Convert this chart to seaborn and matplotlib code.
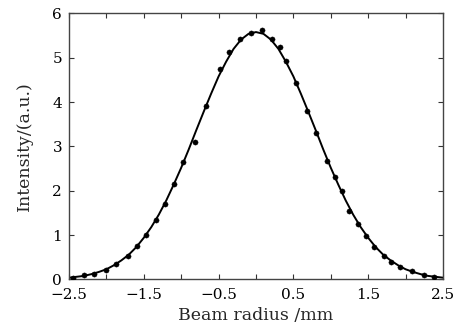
import matplotlib
matplotlib.use("Agg")
import matplotlib.pyplot as plt
import seaborn as sns
import pandas as pd

# measured points (beam radius in mm, intensity in a.u.)
point_x = [-2.44, -2.30, -2.17, -2.01, -1.87, -1.71, -1.59, -1.47, -1.34, -1.22,
           -1.09, -0.97, -0.82, -0.67, -0.48, -0.36, -0.21, -0.07, 0.08, 0.21,
           0.32, 0.40, 0.54, 0.68, 0.80, 0.95, 1.05, 1.15, 1.24, 1.37,
           1.47, 1.58, 1.71, 1.81, 1.93, 2.09, 2.24, 2.38]
point_y = [0.04, 0.09, 0.13, 0.22, 0.35, 0.54, 0.75, 1.00, 1.33, 1.70,
           2.16, 2.65, 3.10, 3.91, 4.74, 5.14, 5.42, 5.55, 5.62, 5.42,
           5.24, 4.92, 4.43, 3.81, 3.31, 2.68, 2.31, 2.00, 1.54, 1.24,
           0.99, 0.73, 0.53, 0.39, 0.27, 0.19, 0.10, 0.06]

# fitted curve
curve_x = [round(-2.5 + 0.1 * i, 1) for i in range(51)]
curve_y = [0.04, 0.06, 0.08, 0.12, 0.17, 0.23, 0.32, 0.43, 0.56, 0.73,
           0.94, 1.18, 1.46, 1.78, 2.14, 2.52, 2.93, 3.36, 3.78, 4.19,
           4.58, 4.91, 5.20, 5.41, 5.54, 5.58, 5.54, 5.41, 5.20, 4.91,
           4.58, 4.19, 3.78, 3.36, 2.93, 2.52, 2.14, 1.78, 1.46, 1.18,
           0.94, 0.73, 0.56, 0.43, 0.32, 0.23, 0.17, 0.12, 0.08, 0.06, 0.04]

x_ticks = [-2.5, -2.0, -1.5, -1.0, -0.5, 0.0, 0.5, 1.0, 1.5, 2.0, 2.5]
x_labels = ["\u22122.5", "", "\u22121.5", "", "\u22120.5", "", "0.5", "", "1.5", "", "2.5"]
y_ticks = [0, 1, 2, 3, 4, 5, 6]

sns.set_style("ticks")
plt.rcParams["font.family"] = ["DejaVu Serif"]

fig = plt.figure(figsize=(4.6, 3.28), dpi=100)
ax = fig.add_axes([0.150, 0.148, 0.813, 0.811])

curve = pd.DataFrame({"x": curve_x, "y": curve_y})
points = pd.DataFrame({"x": point_x, "y": point_y})

sns.lineplot(data=curve, x="x", y="y", ax=ax, color="black", linewidth=1.4)
sns.scatterplot(data=points, x="x", y="y", ax=ax, color="black", s=14,
                edgecolor="black", linewidth=0.3, zorder=3)

ax.set_xlim(-2.5, 2.5)
ax.set_ylim(0, 6)
ax.set_xticks(x_ticks)
ax.set_xticklabels(x_labels)
ax.set_yticks(y_ticks)
ax.tick_params(direction="in", length=3.5, width=0.8, labelsize=11,
               top=True, right=True, colors="#333333", labelcolor="black")
ax.tick_params(axis="x", pad=6)
ax.tick_params(axis="y", pad=5)
for s in ax.spines.values():
    s.set_visible(True)
    s.set_linewidth(1.0)
    s.set_color("#444444")

ax.set_xlabel("Beam radius /mm", fontsize=12.5, labelpad=4)
ax.set_ylabel("Intensity/(a.u.)", fontsize=12.5, labelpad=14)

fig.savefig("out.png", dpi=100)
